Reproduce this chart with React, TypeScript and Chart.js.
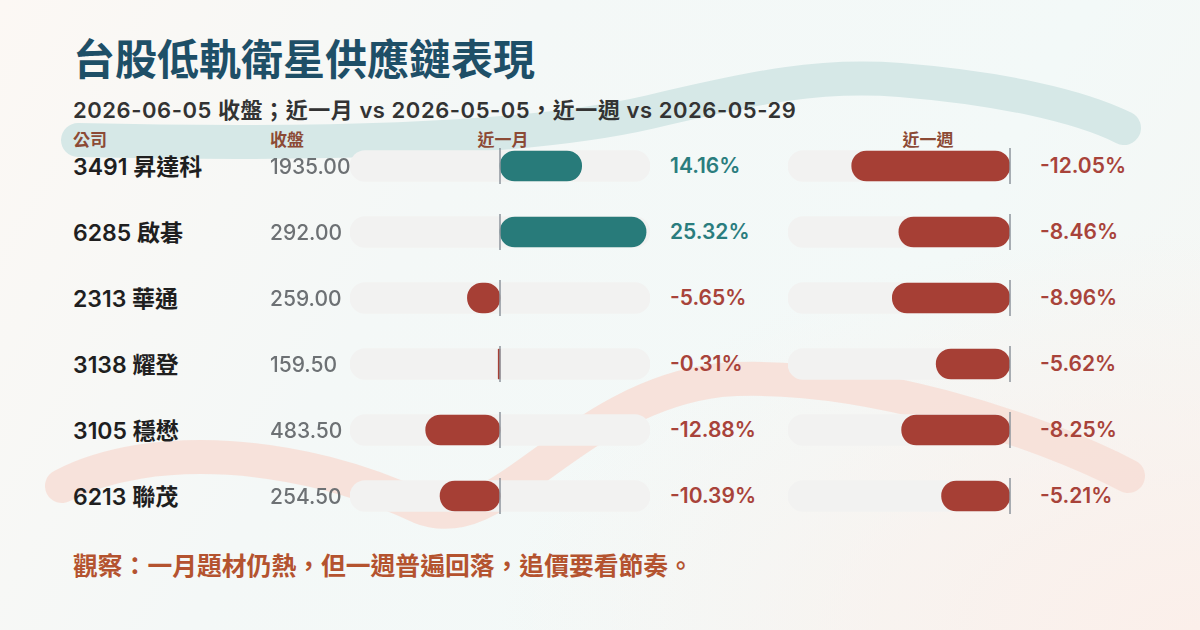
import React, { useEffect, useRef } from "react";
import { Chart, registerables } from "chart.js";

Chart.register(...registerables);

// ---- data ----
const companies = ["3491 昇達科", "6285 啟碁", "2313 華通", "3138 耀登", "3105 穩懋", "6213 聯茂"];
const closePrices = [1935.0, 292.0, 259.0, 159.5, 483.5, 254.5];
const monthChange = [14.16, 25.32, -5.65, -0.31, -12.88, -10.39];
const weekChange = [-12.05, -8.46, -8.96, -5.62, -8.25, -5.21];
const monthRange: [number, number] = [-26, 26];
const weekRange: [number, number] = [-16.9, 0];

const titleText = "台股低軌衛星供應鏈表現";
const subtitleText = "2026-06-05 收盤；近一月 vs 2026-05-05，近一週 vs 2026-05-29";
const headerCompany = "公司";
const headerClose = "收盤";
const headerMonth = "近一月";
const headerWeek = "近一週";
const footerText = "觀察：一月題材仍熱，但一週普遍回落，追價要看節奏。";

const TEAL = "#287b7a";
const RED = "#a63f35";
const TEAL_TEXT = "#2a7d7e";
const RED_TEXT = "#a8433a";
const TRACK = "#f2f2f1";
const FONT = 'Inter, "Noto Sans CJK TC", "Noto Sans", sans-serif';

const ROW_TOP = 133;
const ROW_H = 66;
const rowCenter = (i: number) => ROW_TOP + ROW_H / 2 + ROW_H * i;

const zeroLinePlugin = {
  id: "zeroLine",
  afterDatasetsDraw(chart: any) {
    const { ctx, scales } = chart;
    const x0 = scales.x.getPixelForValue(0);
    ctx.save();
    ctx.strokeStyle = "#8e959d";
    ctx.lineWidth = 1.5;
    chart.data.labels.forEach((_: any, i: number) => {
      const yc = scales.y.getPixelForValue(i);
      ctx.beginPath();
      ctx.moveTo(x0, yc - 18);
      ctx.lineTo(x0, yc + 18);
      ctx.stroke();
    });
    ctx.restore();
  },
};

function BarPanel(props: { values: number[]; range: [number, number]; left: number; width: number; padL: number; padR: number }) {
  const ref = useRef<HTMLCanvasElement>(null);
  const { values, range, left, width, padL, padR } = props;
  useEffect(() => {
    if (!ref.current) return;
    const chart = new Chart(ref.current, {
      type: "bar",
      data: {
        labels: companies,
        datasets: [
          {
            data: values,
            backgroundColor: values.map((v) => (v >= 0 ? TEAL : RED)),
            barThickness: 30,
            borderRadius: 15,
            borderSkipped: false,
            order: 1,
            grouped: false,
          } as any,
          {
            data: values.map(() => range),
            backgroundColor: TRACK,
            barThickness: 31,
            borderRadius: 15.5,
            borderSkipped: false,
            order: 2,
            grouped: false,
          } as any,
        ],
      },
      options: {
        indexAxis: "y",
        responsive: false,
        animation: false,
        layout: { padding: { left: padL, right: padR, top: 0, bottom: 0 } },
        scales: {
          x: { type: "linear", min: range[0], max: range[1], display: false },
          y: { display: false },
        },
        plugins: { legend: { display: false }, tooltip: { enabled: false } },
      },
      plugins: [zeroLinePlugin],
    });
    return () => chart.destroy();
  }, []);
  return (
    <canvas
      ref={ref}
      width={width}
      height={ROW_H * companies.length}
      style={{ position: "absolute", left, top: ROW_TOP, width, height: ROW_H * companies.length }}
    />
  );
}

function T(props: {
  x: number;
  cy: number;
  size: number;
  weight?: number;
  color: string;
  children: any;
  w?: number;
  align?: "left" | "center";
  ls?: number;
}) {
  const { x, cy, size, weight = 400, color, children, w, align = "left", ls = 0 } = props;
  return (
    <div
      style={{
        position: "absolute",
        left: align === "center" && w ? x - w / 2 : x,
        width: w,
        textAlign: align,
        top: cy - 20,
        height: 40,
        lineHeight: "40px",
        fontSize: size,
        fontWeight: weight,
        color,
        letterSpacing: ls,
        whiteSpace: "nowrap",
        fontFamily: FONT,
      }}
    >
      {children}
    </div>
  );
}

const fmtPct = (v: number) => `${v.toFixed(2)}%`;

export default function App() {
  return (
    <div
      style={{
        position: "fixed",
        left: 0,
        top: 0,
        width: 1200,
        height: 630,
        overflow: "hidden",
        background:
          "radial-gradient(ellipse 700px 400px at 1200px 630px, #fbefea 0%, rgba(251,239,234,0) 100%), linear-gradient(120deg, #fcf8f4 0%, #f4f8f7 35%, #f3f9f8 70%, #f6f6f3 100%)",
        fontFamily: FONT,
      }}
    >
      <svg width={1200} height={630} style={{ position: "absolute", left: 0, top: 0 }}>
        <path
          d="M 78 140 C 300 145, 520 142, 650 112 C 760 86, 820 74, 900 80 C 1000 88, 1080 106, 1124 128"
          fill="none"
          stroke="#d6e8e7"
          strokeWidth={34}
          strokeLinecap="round"
        />
        <path
          d="M 62 486 C 150 440, 300 450, 420 507 C 500 540, 570 398, 720 380 C 860 370, 1040 430, 1128 476"
          fill="none"
          stroke="#f7ded6"
          strokeWidth={34}
          strokeLinecap="round"
          opacity={0.85}
        />
      </svg>

      <div
        style={{
          position: "absolute",
          left: 73,
          top: 39,
          fontSize: 42,
          lineHeight: "42px",
          fontWeight: 700,
          color: "#1e4f67",
          whiteSpace: "nowrap",
          fontFamily: FONT,
        }}
      >
        {titleText}
      </div>
      <T x={73} cy={110} size={22} weight={600} color="#333333" ls={0.55}>
        {subtitleText}
      </T>

      <T x={73} cy={140} size={17} weight={700} color="#8c4a35">
        {headerCompany}
      </T>
      <T x={270} cy={140} size={17} weight={700} color="#8c4a35">
        {headerClose}
      </T>
      <T x={503} cy={140} size={17} weight={700} color="#8c4a35" w={120} align="center">
        {headerMonth}
      </T>
      <T x={928} cy={140} size={17} weight={700} color="#8c4a35" w={120} align="center">
        {headerWeek}
      </T>

      <BarPanel values={monthChange} range={monthRange} left={340} width={320} padL={10} padR={10} />
      <BarPanel values={weekChange} range={weekRange} left={778} width={244} padL={10} padR={12} />

      {companies.map((c, i) => (
        <React.Fragment key={c}>
          <T x={73} cy={rowCenter(i) + 1} size={23} weight={600} color="#1f1f1f">
            {c}
          </T>
          <T x={270} cy={rowCenter(i) + 1} size={21} weight={500} color="#6d7174">
            {closePrices[i].toFixed(2)}
          </T>
          <T x={670} cy={rowCenter(i)} size={21} weight={600} color={monthChange[i] >= 0 ? TEAL_TEXT : RED_TEXT}>
            {fmtPct(monthChange[i])}
          </T>
          <T x={1040} cy={rowCenter(i)} size={21} weight={600} color={weekChange[i] >= 0 ? TEAL_TEXT : RED_TEXT}>
            {fmtPct(weekChange[i])}
          </T>
        </React.Fragment>
      ))}

      <T x={73} cy={566} size={24.8} weight={700} color="#b4532f">
        {footerText}
      </T>
    </div>
  );
}
